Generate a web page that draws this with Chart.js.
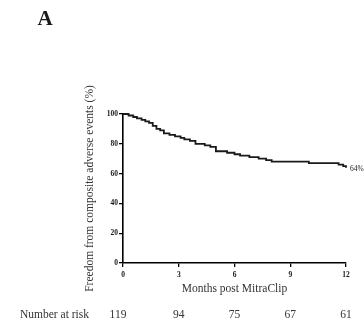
<!DOCTYPE html>
<html>
<head>
<meta charset="utf-8">
<script src="https://cdn.jsdelivr.net/npm/chart.js@4.4.1/dist/chart.umd.min.js"></script>
<style>
  html, body { margin: 0; padding: 0; background: #fff; }
  #wrap { position: relative; width: 364px; height: 324px; }
</style>
</head>
<body>
<div id="wrap"><canvas id="km"></canvas></div>
<script>
// ── Data ──
const eventMonths = [0, 0.3, 0.55, 0.75, 1.0, 1.2, 1.4, 1.6, 1.8, 2.0, 2.2, 2.5, 2.8, 3.1, 3.3, 3.6, 3.9, 4.4, 4.7, 5.0, 5.6, 6.0, 6.3, 6.8, 7.3, 7.7, 8.0, 10.0, 11.6, 11.85, 12.0]
const freedomPct  = [100, 99, 98, 97, 96, 95, 94, 92, 90, 89, 87, 86, 85, 84, 83, 82, 80, 79, 78, 75, 74, 73, 72, 71, 70, 69, 68, 67, 66, 65, 64]
const xTicks      = [0, 3, 6, 9, 12]
const yTicks      = [0, 20, 40, 60, 80, 100]
const riskMonths  = [0, 3, 6, 9, 12]
const riskCounts  = [119, 94, 75, 67, 61]
const endLabel    = '64%'

const SERIF = "'Liberation Serif', 'DejaVu Serif', serif"
const INK   = '#1a1a1a'

// ── Extra text: panel letter, end label, number at risk row ──
const extras = {
  id: 'extras',
  afterDraw(chart) {
    const { ctx, scales: { x, y } } = chart
    ctx.save()
    ctx.fillStyle = INK

    ctx.font = `bold 21px ${SERIF}`
    ctx.textAlign = 'center'
    ctx.textBaseline = 'middle'
    ctx.fillText('A', 45, 20)

    ctx.font = `7.5px ${SERIF}`
    ctx.textAlign = 'left'
    const last = freedomPct.length - 1
    ctx.fillText(endLabel, x.getPixelForValue(eventMonths[last]) + 4, y.getPixelForValue(freedomPct[last]) + 1)

    ctx.font = `11.5px ${SERIF}`
    ctx.fillStyle = '#333'
    ctx.textAlign = 'left'
    ctx.fillText('Number at risk', 20, 315)
    ctx.textAlign = 'center'
    riskMonths.forEach((m, i) => {
      ctx.fillText(String(riskCounts[i]), x.getPixelForValue(m) - (i === 0 ? 5 : 0), 315)
    })
    ctx.restore()
  }
}

new Chart(document.getElementById('km'), {
  type: 'line',
  data: {
    datasets: [{
      data: eventMonths.map((m, i) => ({ x: m, y: freedomPct[i] })),
      borderColor: INK,
      borderWidth: 1.8,
      pointRadius: 0,
      stepped: true,
      fill: false,
      clip: 6,
    }]
  },
  options: {
    responsive: true,
    maintainAspectRatio: false,
    animation: false,
    layout: { padding: { left: 82, top: 114, right: 18, bottom: 25 } },
    plugins: { legend: { display: false }, tooltip: { enabled: false } },
    scales: {
      x: {
        type: 'linear',
        min: 0, max: 12,
        afterFit: s => { s.height = 36 },
        afterBuildTicks: s => { s.ticks = xTicks.map(v => ({ value: v })) },
        border: { display: true, color: '#000', width: 1.6 },
        grid: { drawOnChartArea: false, drawTicks: true, tickLength: 4, color: '#000', lineWidth: 1.3 },
        ticks: { color: INK, padding: 4, font: { family: SERIF, size: 7.5, weight: 'bold' } },
        title: { display: true, text: 'Months post MitraClip', color: '#333', padding: { top: 0, bottom: 3 }, font: { family: SERIF, size: 11.5 } }
      },
      y: {
        min: 0, max: 100,
        afterFit: s => { s.width = 41 },
        afterBuildTicks: s => { s.ticks = yTicks.map(v => ({ value: v })) },
        border: { display: true, color: '#000', width: 1.6 },
        grid: { drawOnChartArea: false, drawTicks: true, tickLength: 4, color: '#000', lineWidth: 1.3 },
        ticks: { color: INK, padding: 1, font: { family: SERIF, size: 7.5, weight: 'bold' } },
        title: { display: true, text: 'Freedom from composite adverse events (%)', color: '#333', padding: { top: 1, bottom: 0 }, font: { family: SERIF, size: 11.5 } }
      }
    }
  },
  plugins: [extras]
})
</script>
</body>
</html>
